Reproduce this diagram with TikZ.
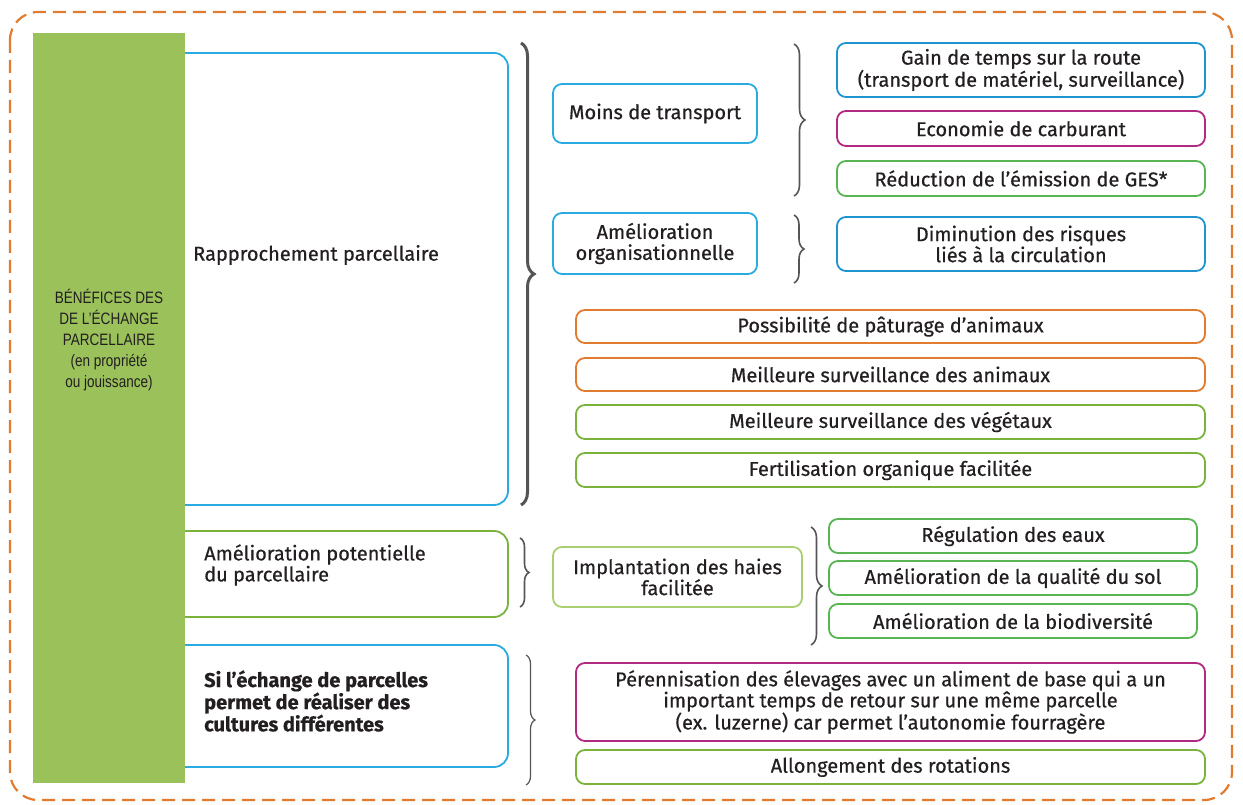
\documentclass[tikz,border=0pt]{standalone}
\usepackage{fontspec}
\setmainfont{Fira Sans}[FakeBold=0.6]
\newfontfamily\condfont[FakeStretch=0.82]{Liberation Sans}
\usetikzlibrary{decorations.pathreplacing,calc}
\definecolor{cblue}{RGB}{41,171,226}
\definecolor{cbluedk}{RGB}{30,148,208}
\definecolor{cmag}{RGB}{176,42,130}
\definecolor{cgreen}{RGB}{88,181,82}
\definecolor{colive}{RGB}{122,178,60}
\definecolor{clight}{RGB}{170,207,112}
\definecolor{corange}{RGB}{224,123,48}
\definecolor{cfill}{RGB}{155,193,91}
\definecolor{ctext}{RGB}{35,31,32}
\definecolor{cbrace}{RGB}{85,85,85}
\newcommand{\mfont}{\fontsize{20}{21}\selectfont}
\tikzset{
  bx/.style={draw=#1, line width=1.8pt, rounded corners=9pt, align=center, inner sep=0pt,
    font=\mfont, text=ctext},
  bigbx/.style={draw=#1, line width=1.8pt, rounded corners=14pt},
  brc/.style={decorate, decoration={brace, amplitude=#1}, draw=cbrace, line width=1.6pt},
  lbl/.style={anchor=west, align=left, inner sep=0pt, font=\mfont, text=ctext}
}
\begin{document}
\begin{tikzpicture}[x=1pt,y=-1pt]
\useasboundingbox (0,0) rectangle (1243,805);
% outer dashed frame
\draw[corange, line width=2.2pt, dash pattern=on 13pt off 7pt, rounded corners=28pt] (10,12) rectangle (1232,800);
% big left boxes
\draw[bigbx=cblue] (150,53) rectangle (508,505);
\draw[bigbx=colive] (150,531) rectangle (508,617);
\draw[bigbx=cblue] (150,645) rectangle (508,767);
% green column
\fill[cfill] (33,33) rectangle (185,783);
\node[align=center, inner sep=0pt, font=\condfont\fontsize{16.5}{21}\selectfont, text=ctext] (title) at (109,340)
  {BÉNÉFICES DES\\DE L’ÉCHANGE\\PARCELLAIRE\\(en propriété\\ou jouissance)};
\node[lbl] (rap) at (193,255) {Rapprochement parcellaire};
\node[lbl] (ap) at (204,565) {Amélioration potentielle\\du parcellaire};
\node[lbl, font=\bfseries\mfont] (si) at (204,701) {Si l’échange de parcelles\\permet de réaliser des\\cultures différentes};
% second column
\node[bx=cblue, minimum width=204pt, minimum height=59pt] (moins) at (655,113.5) {Moins de transport};
\node[bx=cblue, minimum width=204pt, minimum height=61pt] (org) at (655,243.5) {Amélioration\\organisationnelle};
\node[bx=clight, minimum width=249pt, minimum height=60pt] (impl) at (677.5,577) {Implantation des haies\\facilitée};
% third column
\node[bx=cbluedk, minimum width=368pt, minimum height=54pt] (gain) at (1021,70) {Gain de temps sur la route\\(transport de matériel, surveillance)};
\node[bx=cmag, minimum width=368pt, minimum height=35pt] (eco) at (1021,128.5) {Economie de carburant};
\node[bx=cgreen, minimum width=368pt, minimum height=35pt] (red) at (1021,178.5) {Réduction de l’émission de GES*};
\node[bx=cbluedk, minimum width=368pt, minimum height=54pt] (dim) at (1021,244) {Diminution des risques\\liés à la circulation};
\node[bx=corange, minimum width=629pt, minimum height=33pt] (pat) at (890.5,326.5) {Possibilité de pâturage d’animaux};
\node[bx=corange, minimum width=629pt, minimum height=33pt] (anim) at (890.5,374.5) {Meilleure surveillance des animaux};
\node[bx=colive, minimum width=629pt, minimum height=34pt] (veg) at (890.5,422) {Meilleure surveillance des végétaux};
\node[bx=colive, minimum width=629pt, minimum height=34pt] (fert) at (890.5,470) {Fertilisation organique facilitée};
\node[bx=cgreen, minimum width=368pt, minimum height=34pt] (reg) at (1013,536) {Régulation des eaux};
\node[bx=cgreen, minimum width=368pt, minimum height=34pt] (qual) at (1013,578) {Amélioration de la qualité du sol};
\node[bx=cgreen, minimum width=368pt, minimum height=34pt] (bio) at (1013,621) {Amélioration de la biodiversité};
\node[bx=cmag, minimum width=629pt, minimum height=78pt] (per) at (890.5,702) {Pérennisation des élevages avec un aliment de base qui a un\\important temps de retour sur une même parcelle\\(ex. luzerne) car permet l’autonomie fourragère};
\node[bx=colive, minimum width=629pt, minimum height=34pt] (allo) at (890.5,767) {Allongement des rotations};
% braces
\draw[brc=13pt, line width=3pt] (521,43) -- (521,505);
\draw[brc=11pt] (794,44) -- (794,196);
\draw[brc=10pt] (794,215) -- (794,283);
\draw[brc=9pt] (520,538) -- (520,607);
\draw[brc=11pt] (811,527) -- (811,645);
\draw[brc=9pt, line width=1.2pt] (526,655) -- (526,785);
\end{tikzpicture}
\end{document}
